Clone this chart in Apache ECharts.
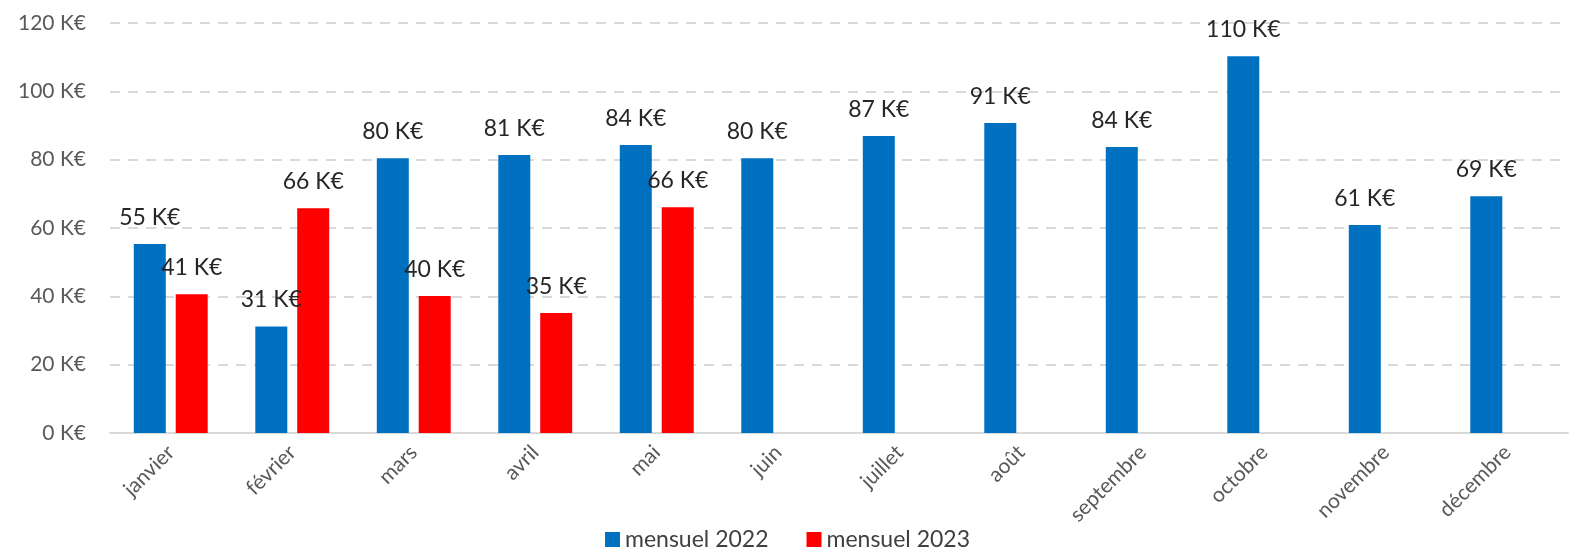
<!DOCTYPE html>
<html>
<head>
<meta charset="utf-8">
<script src="https://cdn.jsdelivr.net/npm/echarts@6/dist/echarts.min.js"></script>
<style>
  html, body { margin: 0; padding: 0; background: #fff; }
  #chart { width: 1575px; height: 553px; }
</style>
</head>
<body>
<div id="chart"></div>
<script>
const months = ['janvier', 'février', 'mars', 'avril', 'mai', 'juin', 'juillet', 'août', 'septembre', 'octobre', 'novembre', 'décembre'];
const mensuel2022 = [55.3, 31.2, 80.4, 81.4, 84.3, 80.4, 86.9, 90.7, 83.7, 110.3, 60.9, 69.3];
const mensuel2023 = [40.6, 65.8, 40.1, 35.1, 66.1, null, null, null, null, null, null, null];
const yTicks = [0, 20, 40, 60, 80, 100, 120];

const font = 'Lato';
const myChart = echarts.init(document.getElementById('chart'));

const label = {
  show: true,
  position: 'top',
  distance: 15,
  color: '#262626',
  fontFamily: font,
  fontSize: 23,
  formatter: p => Math.round(p.value) + ' K€',
};

myChart.setOption({
  animation: false,
  grid: { left: 110, right: 7, top: 23, bottom: 120 },
  legend: {
    bottom: -3,
    left: 'center',
    itemWidth: 15,
    itemHeight: 15,
    itemGap: 38,
    icon: 'rect',
    textStyle: { color: '#404040', fontFamily: font, fontSize: 23 },
    data: ['mensuel 2022', 'mensuel 2023'],
  },
  xAxis: {
    type: 'category',
    data: months,
    axisLine: { lineStyle: { color: '#d9d9d9', width: 2 } },
    axisTick: { show: false },
    axisLabel: {
      rotate: 45,
      interval: 0,
      margin: 16,
      color: '#595959',
      fontFamily: font,
      fontSize: 21,
    },
  },
  yAxis: {
    type: 'value',
    min: yTicks[0],
    max: yTicks[yTicks.length - 1],
    interval: 20,
    axisLine: { show: false },
    axisTick: { show: false },
    axisLabel: {
      color: '#595959',
      fontFamily: font,
      fontSize: 21,
      margin: 24,
      formatter: v => v + ' K€',
    },
    splitLine: { lineStyle: { color: '#d9d9d9', width: 2, type: [10, 8] } },
  },
  series: [
    {
      name: 'mensuel 2022',
      type: 'bar',
      data: mensuel2022,
      barWidth: 32,
      barGap: '31%',
      itemStyle: { color: '#0070c0' },
      label: label,
    },
    {
      name: 'mensuel 2023',
      type: 'bar',
      data: mensuel2023,
      barWidth: 32,
      itemStyle: { color: '#ff0000' },
      label: label,
    },
  ],
});
</script>
</body>
</html>
